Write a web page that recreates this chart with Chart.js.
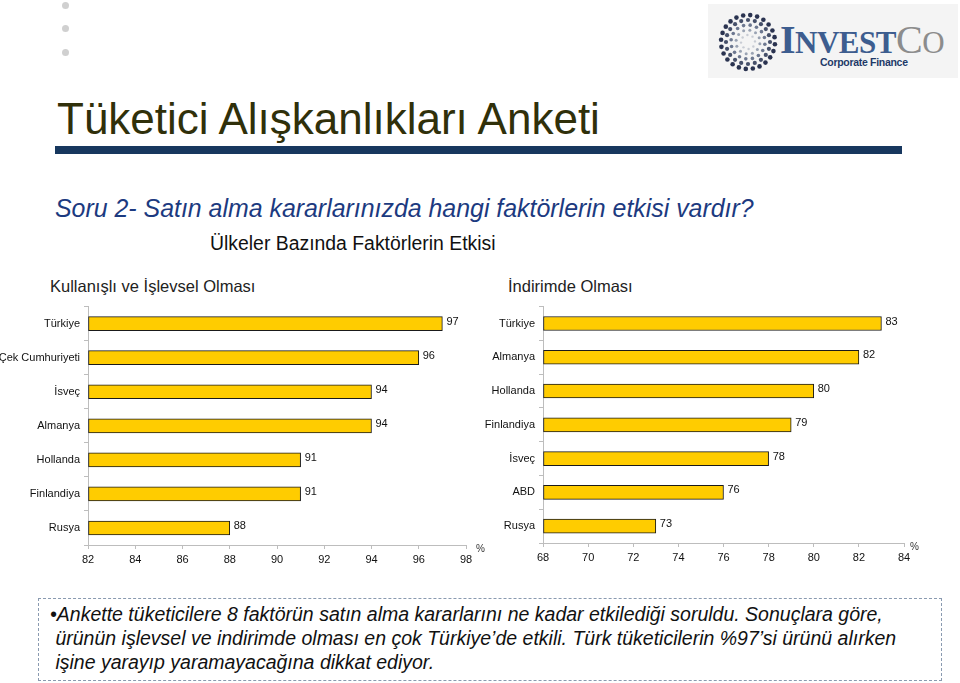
<!DOCTYPE html>
<html>
<head>
<meta charset="utf-8">
<script src="https://cdn.jsdelivr.net/npm/chart.js@4"></script>
<style>
  body { margin: 0; width: 960px; height: 683px; background: #fff; position: relative; overflow: hidden; font-family: "Liberation Sans", Arial, sans-serif; }
  .abs { position: absolute; white-space: nowrap; }
  .dot { position: absolute; width: 7px; height: 7px; border-radius: 50%; background: #d0d0d0; }
  #title { left: 57px; top: 94px; font-size: 44px; color: #30300a; }
  #rule { left: 55px; top: 146px; width: 847px; height: 8px; background: #17375e; }
  #soru { left: 55px; top: 194px; font-size: 24.9px; font-style: italic; color: #1c3a80; }
  #head { left: 210px; top: 232px; font-size: 19.4px; color: #111; }
  .sub { top: 277px; font-size: 16.5px; color: #222; }
  .pct { font-size: 10px; color: #333; }
  #note { left: 38px; top: 598px; width: 902px; height: 81px; border: 1px dashed #8a9ab0; }
  #noteText { left: 50px; top: 602px; font-family: "Liberation Sans Narrow", "Arial Narrow", sans-serif; font-stretch: condensed; font-style: italic; font-size: 19.5px; line-height: 24px; color: #111; }
  #logo { left: 708px; top: 4px; width: 250px; height: 74px; background: #f4f4f4; }
</style>
</head>
<body>
<div class="dot" style="left:62px;top:2px"></div>
<div class="dot" style="left:62px;top:25px"></div>
<div class="dot" style="left:62px;top:49px"></div>

<div id="logo" class="abs">
  <canvas id="logoDots" width="64" height="64" style="position:absolute;left:8px;top:6px"></canvas>
  <div class="abs" style="left:72px;top:12px;font-family:'Liberation Serif','DejaVu Serif',serif;font-weight:bold;color:#3d5d8f;letter-spacing:-0.5px">
    <span style="font-size:40px">I</span><span style="font-size:31px">NVEST</span><span style="font-size:40px;color:#8c8c8c;font-weight:normal">C</span><span style="font-size:31px;color:#8c8c8c;font-weight:normal">O</span>
  </div>
  <div class="abs" style="left:112px;top:52px;font-size:10.5px;font-weight:bold;color:#1e3a68;letter-spacing:-0.3px">Corporate Finance</div>
</div>

<div id="title" class="abs">Tüketici Alışkanlıkları Anketi</div>
<div id="rule" class="abs"></div>
<div id="soru" class="abs">Soru 2- Satın alma kararlarınızda hangi faktörlerin etkisi vardır?</div>
<div id="head" class="abs">Ülkeler Bazında Faktörlerin Etkisi</div>
<div class="abs sub" style="left:50px">Kullanışlı ve İşlevsel Olması</div>
<div class="abs sub" style="left:508px">İndirimde Olması</div>

<canvas id="leftChart" width="490" height="280" style="position:absolute;left:0;top:296px"></canvas>
<canvas id="rightChart" width="480" height="280" style="position:absolute;left:480px;top:296px"></canvas>
<div class="abs pct" style="left:476px;top:543px">%</div>
<div class="abs pct" style="left:910px;top:541px">%</div>

<div id="note" class="abs"></div>
<div id="noteText" class="abs">•Ankette tüketicilere 8 faktörün satın alma kararlarını ne kadar etkilediği soruldu. Sonuçlara göre,<br>&nbsp;ürünün işlevsel ve indirimde olması en çok Türkiye’de etkili. Türk tüketicilerin %97’si ürünü alırken<br>&nbsp;işine yarayıp yaramayacağına dikkat ediyor.</div>

<script>
// Kullanışlı ve İşlevsel Olması
const left_labels = ['Türkiye', 'Çek Cumhuriyeti', 'İsveç', 'Almanya', 'Hollanda', 'Finlandiya', 'Rusya']
const left_values = [97, 96, 94, 94, 91, 91, 88]
const left_min = 82
const left_max = 98

// İndirimde Olması
const right_labels = ['Türkiye', 'Almanya', 'Hollanda', 'Finlandiya', 'İsveç', 'ABD', 'Rusya']
const right_values = [83, 82, 80, 79, 78, 76, 73]
const right_min = 68
const right_max = 84

const tick_step = 2

// value labels at the end of each bar
const valueLabels = {
  id: 'valueLabels',
  afterDatasetsDraw(chart) {
    const ctx = chart.ctx
    const meta = chart.getDatasetMeta(0)
    ctx.save()
    ctx.font = '11px "Liberation Sans", Arial, sans-serif'
    ctx.fillStyle = '#111'
    ctx.textAlign = 'left'
    ctx.textBaseline = 'middle'
    meta.data.forEach((bar, i) => {
      ctx.fillText(chart.data.datasets[0].data[i], bar.x + 4, bar.y - 2)
    })
    ctx.restore()
  }
}

function makeChart(id, labels, values, min, max, yWidth, xHeight, pad) {
  const ctx = document.getElementById(id).getContext('2d')
  return new Chart(ctx, {
    type: 'bar',
    data: {
      labels: labels,
      datasets: [{
        data: values,
        base: min,
        backgroundColor: '#ffcc00',
        borderColor: '#1a1a1a',
        borderWidth: 1,
        borderSkipped: false,
        barThickness: 14
      }]
    },
    plugins: [valueLabels],
    options: {
      indexAxis: 'y',
      responsive: false,
      animation: false,
      devicePixelRatio: 1,
      layout: { padding: pad },
      plugins: {
        legend: { display: false },
        tooltip: { enabled: false }
      },
      scales: {
        x: {
          min: min,
          max: max,
          ticks: {
            stepSize: tick_step,
            color: '#111',
            padding: 4,
            font: { size: 11, family: '"Liberation Sans", Arial, sans-serif' }
          },
          grid: { drawOnChartArea: false, tickLength: 4, color: '#bdbdbd' },
          border: { color: '#bdbdbd' },
          afterFit: scale => { scale.height = xHeight }
        },
        y: {
          ticks: {
            color: '#111',
            padding: 4,
            font: { size: 11, family: '"Liberation Sans", Arial, sans-serif' }
          },
          grid: { drawOnChartArea: false, tickLength: 4, color: '#bdbdbd' },
          border: { color: '#bdbdbd' },
          afterFit: scale => { scale.width = yWidth }
        }
      }
    }
  })
}

makeChart('leftChart', left_labels, left_values, left_min, left_max, 88, 31, { top: 7, right: 24, left: 0, bottom: 0 })
makeChart('rightChart', right_labels, right_values, right_min, right_max, 63, 33, { top: 9, right: 56, left: 0, bottom: 0 })

// logo sunburst
const lc = document.getElementById('logoDots').getContext('2d')
const rings = [[7, 8, '#c8ccd4', 1.2], [12, 12, '#9aa3b3', 1.5], [17, 16, '#6d7890', 1.8], [22, 20, '#46506a', 2.1], [27, 24, '#2a3350', 2.3]]
rings.forEach(r => {
  for (let k = 0; k < r[1]; k++) {
    const a = k / r[1] * Math.PI * 2 + r[0] * 0.1
    lc.beginPath()
    lc.arc(32 + Math.cos(a) * r[0], 32 + Math.sin(a) * r[0], r[3], 0, Math.PI * 2)
    lc.fillStyle = r[2]
    lc.fill()
  }
})
</script>
</body>
</html>
